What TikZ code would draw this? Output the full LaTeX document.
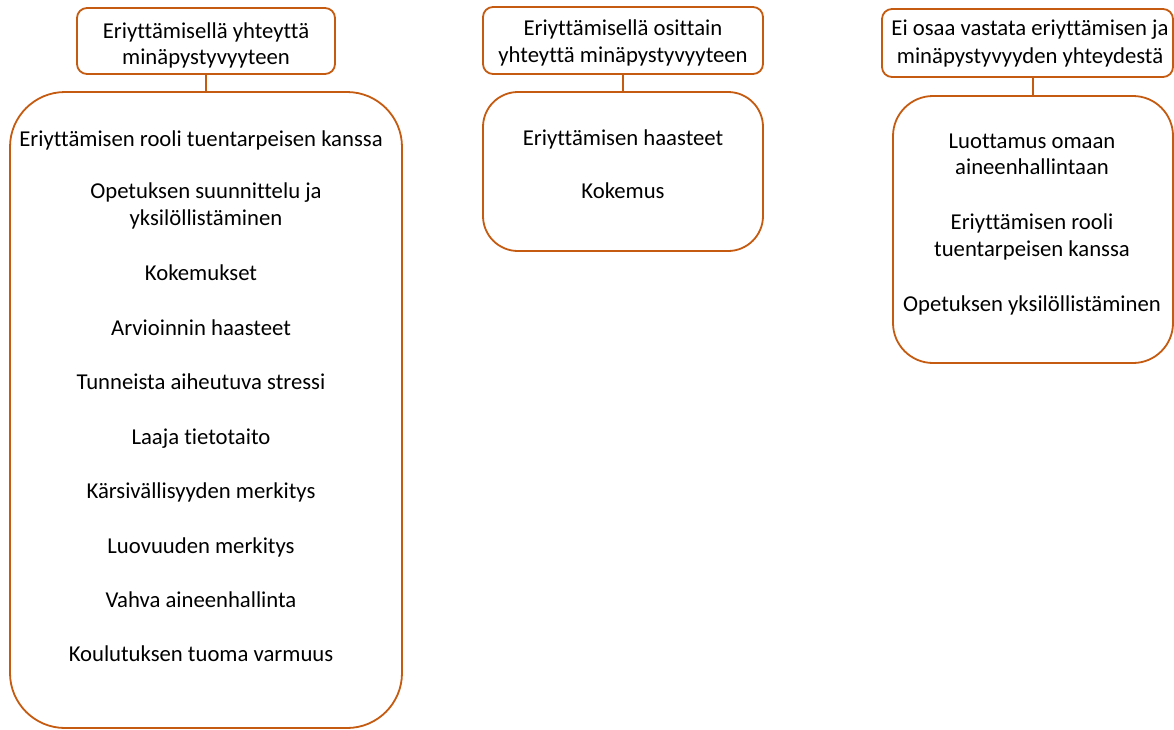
\documentclass[tikz,border=0pt]{standalone}
\usepackage{fontspec}
\setmainfont{Carlito}[Ligatures={NoCommon}]
\definecolor{boxorange}{RGB}{197,90,17}
\begin{document}
\begin{tikzpicture}[x=1pt,y=-1pt,
  frame/.style={draw=boxorange, line width=1.8pt, rectangle, inner sep=0pt, outer sep=0pt, fill=none},
  link/.style={draw=boxorange, line width=1.8pt},
  txt/.style={anchor=base, inner sep=0pt, font=\fontsize{22.7}{27}\selectfont, text=black}]
\useasboundingbox (0,0) rectangle (1174,729);
% boxes
\node[frame, rounded corners=10pt, minimum width=258pt, minimum height=66pt] (t1) at (206,41) {};
\node[frame, rounded corners=55pt, minimum width=392pt, minimum height=636pt] (b1) at (206,410) {};
\node[frame, rounded corners=10pt, minimum width=280pt, minimum height=67pt] (t2) at (623,40.5) {};
\node[frame, rounded corners=35pt, minimum width=280pt, minimum height=159pt] (b2) at (623,171.5) {};
\node[frame, rounded corners=10pt, minimum width=291pt, minimum height=68pt] (t3) at (1027.5,43) {};
\node[frame, rounded corners=40pt, minimum width=280pt, minimum height=267pt] (b3) at (1033,229.5) {};
% connectors
\draw[link] (t1.south) -- (b1.north);
\draw[link] (t2.south) -- (b2.north);
\draw[link] (b3.north |- t3.south) -- (b3.north);
% left titles
\node[txt] (t1a) at (206,38) {Eriyttämisellä yhteyttä};
\node[txt] (t1b) at (206,64) {minäpystyvyyteen};
\node[txt] (l1) at (201,146) {Eriyttämisen rooli tuentarpeisen kanssa};
\node[txt] (l2a) at (206,198) {Opetuksen suunnittelu ja};
\node[txt] (l2b) at (206,225) {yksilöllistäminen};
\node[txt] (l3) at (201,280) {Kokemukset};
\node[txt] (l4) at (201,335) {Arvioinnin haasteet};
\node[txt] (l5) at (201,389) {Tunneista aiheutuva stressi};
\node[txt] (l6) at (201,444) {Laaja tietotaito};
\node[txt] (l7) at (201,498) {Kärsivällisyyden merkitys};
\node[txt] (l8) at (201,553) {Luovuuden merkitys};
\node[txt] (l9) at (201,607) {Vahva aineenhallinta};
\node[txt] (l10) at (201,661) {Koulutuksen tuoma varmuus};
% middle
\node[txt] (t2a) at (623,35) {Eriyttämisellä osittain};
\node[txt] (t2b) at (623,62) {yhteyttä minäpystyvyyteen};
\node[txt] (m1) at (623,145) {Eriyttämisen haasteet};
\node[txt] (m2) at (623,198) {Kokemus};
% right
\node[txt] (t3a) at (1030,35) {Ei osaa vastata eriyttämisen ja};
\node[txt] (t3b) at (1030,63) {minäpystyvyyden yhteydestä};
\node[txt] (r1a) at (1032,148) {Luottamus omaan};
\node[txt] (r1b) at (1032,174) {aineenhallintaan};
\node[txt] (r2a) at (1032,229) {Eriyttämisen rooli};
\node[txt] (r2b) at (1032,256) {tuentarpeisen kanssa};
\node[txt] (r3) at (1032,311) {Opetuksen yksilöllistäminen};
\end{tikzpicture}
\end{document}
